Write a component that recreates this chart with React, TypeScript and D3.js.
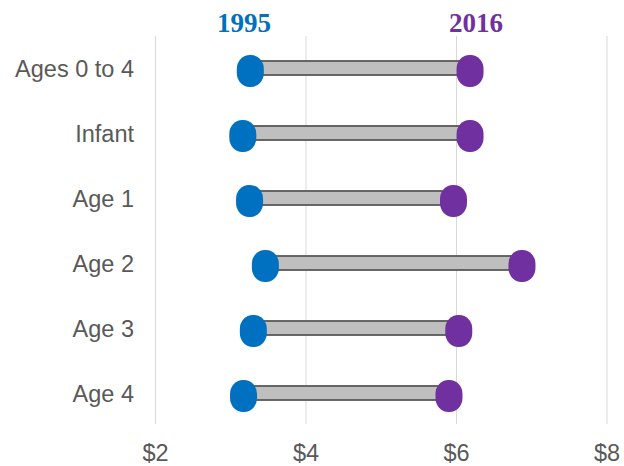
import React from "react";
import * as d3 from "d3";

const categories = ["Ages 0 to 4", "Infant", "Age 1", "Age 2", "Age 3", "Age 4"];
const values1995 = [3.26, 3.16, 3.25, 3.46, 3.3, 3.17];
const values2016 = [6.18, 6.18, 5.96, 6.87, 6.03, 5.9];
const xTicks = [2, 4, 6, 8];
const seriesLabels = ["1995", "2016"];

const W = 624;
const H = 466;

export default function App() {
  const x = d3.scaleLinear().domain([2, 8]).range([155.5, 607]);
  const y = d3.scalePoint<string>().domain(categories).range([71, 396]);
  const gridTop = 36;
  const gridBottom = 424;
  const blue = "#0070c0";
  const purple = "#7030a0";
  const mw = 27;
  const mh = 32;
  const barH = 14;

  return (
    <svg
      width={W}
      height={H}
      style={{ position: "absolute", left: 0, top: 0 }}
      xmlns="http://www.w3.org/2000/svg"
    >
      <rect width={W} height={H} fill="#ffffff" />
      {xTicks.map((t) => (
        <line
          key={"g" + t}
          x1={x(t)}
          x2={x(t)}
          y1={gridTop}
          y2={gridBottom}
          stroke="#d9d9d9"
          strokeWidth={1}
        />
      ))}
      {xTicks.map((t) => (
        <text
          key={"t" + t}
          x={x(t)}
          y={461}
          textAnchor="middle"
          fontFamily="Liberation Sans, Arial, sans-serif"
          fontSize={23.5}
          fill="#595959"
        >
          {"$" + t}
        </text>
      ))}
      {categories.map((c, i) => {
        const cy = y(c) as number;
        const bc = cy - 3;
        const x0 = x(values1995[i]);
        const x1 = x(values2016[i]);
        return (
          <g key={c}>
            <text
              x={134}
              y={bc + 8.5}
              textAnchor="end"
              fontFamily="Liberation Sans, Arial, sans-serif"
              fontSize={23.5}
              fill="#595959"
            >
              {c}
            </text>
            <rect
              x={x0}
              y={bc - barH / 2}
              width={x1 - x0}
              height={barH}
              fill="#bfbfbf"
              stroke="#595959"
              strokeWidth={1.8}
            />
            <rect
              x={x0 - mw / 2}
              y={cy - mh / 2}
              width={mw}
              height={mh}
              rx={13}
              ry={14}
              fill={blue}
            />
            <rect
              x={x1 - mw / 2}
              y={cy - mh / 2}
              width={mw}
              height={mh}
              rx={13}
              ry={14}
              fill={purple}
            />
          </g>
        );
      })}
      <text
        x={244}
        y={32}
        textAnchor="middle"
        fontFamily="Liberation Serif, Times New Roman, serif"
        fontWeight="bold"
        fontSize={27}
        fill={blue}
      >
        {seriesLabels[0]}
      </text>
      <text
        x={476}
        y={32}
        textAnchor="middle"
        fontFamily="Liberation Serif, Times New Roman, serif"
        fontWeight="bold"
        fontSize={27}
        fill={purple}
      >
        {seriesLabels[1]}
      </text>
    </svg>
  );
}
